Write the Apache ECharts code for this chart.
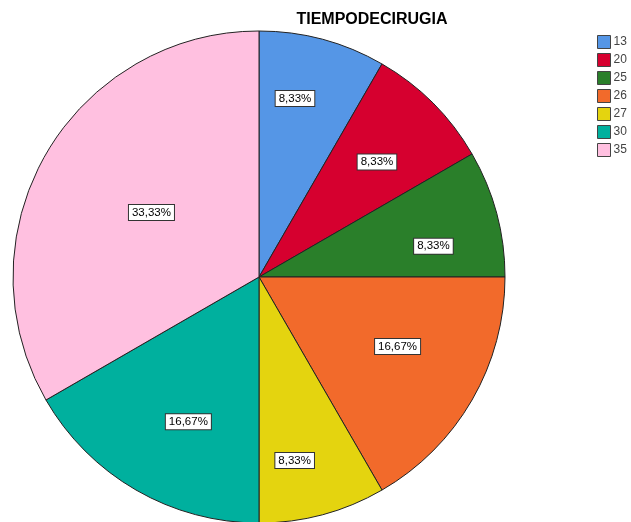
<!DOCTYPE html>
<html>
<head>
<meta charset="utf-8">
<script src="https://cdn.jsdelivr.net/npm/echarts@6/dist/echarts.min.js"></script>
<style>html,body{margin:0;padding:0;background:#fff}</style>
</head>
<body>
<div id="chart" style="width:631px;height:522px"></div>
<script>
const categories = ['13', '20', '25', '26', '27', '30', '35']
const counts = [1, 1, 1, 2, 1, 2, 4]
const COLORS = ['#5596E6', '#D6002F', '#2A7F2A', '#F26A2B', '#E4D40F', '#00B09E', '#FFC0E0']

const CX = 259, CY = 277, R = 246
// label placement: share of radius + small angle shift in degrees (SPSS places them unevenly)
const labelR = [0.74, 0.67, 0.72, 0.63, 0.76, 0.655, 0.51]
const labelShift = [-3.6, 0.7, 5, -3.4, 4, -4, 1]
const total = counts.reduce((a, b) => a + b, 0)

function midAngle(i) {
  let before = 0
  for (let k = 0; k < i; k++) before += counts[k]
  return ((before + counts[i] / 2) / total) * Math.PI * 2
}

const chart = echarts.init(document.getElementById('chart'))
chart.setOption({
  animation: false,
  color: COLORS,
  title: {
    text: 'TIEMPODECIRUGIA', left: 367, top: 7, textAlign: 'center',
    textStyle: { fontFamily: 'Liberation Sans, Arial', fontSize: 16, fontWeight: 'bold', color: '#000' }
  },
  legend: {
    orient: 'vertical', left: 592, top: 30,
    itemWidth: 13, itemHeight: 13, itemGap: 4, icon: 'rect',
    itemStyle: { borderColor: '#444', borderWidth: 1 },
    textStyle: { fontFamily: 'Liberation Sans, Arial', fontSize: 12, color: '#444', lineHeight: 13, height: 13, padding: [0, 0, 0, -2] },
    data: categories
  },
  series: [{
    type: 'pie', center: [CX, CY], radius: R, startAngle: 90, clockwise: true,
    data: categories.map((c, i) => ({ name: c, value: counts[i] })),
    itemStyle: { borderColor: '#222', borderWidth: 1 },
    label: {
      show: true, position: 'inside',
      formatter: p => (p.value / total * 100).toFixed(2).replace('.', ',') + '%',
      fontFamily: 'Liberation Sans, Arial', fontSize: 11.5, color: '#000',
      backgroundColor: '#fff', borderColor: '#333', borderWidth: 1, padding: [2, 3, 1, 3]
    },
    labelLayout: p => {
      const i = p.dataIndex
      const a = midAngle(i) + labelShift[i] * Math.PI / 180, r = R * labelR[i]
      return { x: CX + r * Math.sin(a), y: CY - r * Math.cos(a), align: 'center', verticalAlign: 'middle' }
    },
    emphasis: { disabled: true }
  }]
})
</script>
</body>
</html>
